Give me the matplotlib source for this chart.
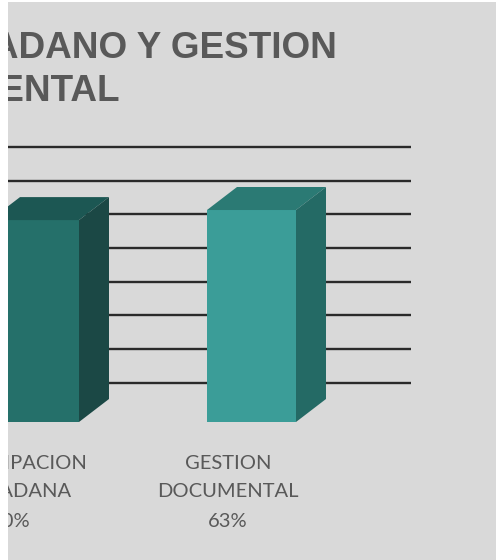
import matplotlib
matplotlib.use("Agg")
import matplotlib.pyplot as plt
from matplotlib.patches import Polygon, Rectangle

# ---- data ----
categories = ["PARTICIPACION\nCIUDADANA", "GESTION\nDOCUMENTAL"]
values = [60, 63]
grid_values = [10, 20, 30, 40, 50, 60, 70, 80]
title_lines = ["PARTICIPACION CIUDADANO Y GESTION", "DOCUMENTAL"]

# ---- style ----
W, H = 496, 560
BG = "#d9d9d9"
front_cols = ["#25706a", "#3b9d98"]
top_cols = ["#1c5753", "#2b7a74"]
side_cols = ["#1b4845", "#246a65"]
txt_col = "#595959"

fig = plt.figure(figsize=(W / 100, H / 100), dpi=100)
fig.patch.set_facecolor("white")
fig.patches.append(Rectangle((8 / W, 0), 1, (H - 2) / H, transform=fig.transFigure,
                             facecolor=BG, edgecolor="none", zorder=-5))

px_per_cat = 217.0
px_per_pct = 3.365
x0_px = 34.5          # pixel x of category 0 center
base_px = 422.0       # pixel y (from top) of value 0
ax = fig.add_axes([0, (H - base_px) / H, 1, 100 * px_per_pct / H])
ax.set_xlim(-x0_px / px_per_cat, (W - x0_px) / px_per_cat)
ax.set_ylim(0, 100)
ax.axis("off")

bar_w = 89 / px_per_cat
dx = 30 / px_per_cat
dy = 23 / px_per_pct
grid_shift = 1.7

ax.hlines([g + grid_shift for g in grid_values], -1, (411 - x0_px) / px_per_cat,
          colors="#2a2a2a", linewidth=1.7, zorder=1)

xs = list(range(len(categories)))
ax.bar(xs, values, width=bar_w, color=front_cols, zorder=3)
for x, v, tc, sc in zip(xs, values, top_cols, side_cols):
    xl, xr = x - bar_w / 2, x + bar_w / 2
    ax.add_patch(Polygon([(xl, v), (xr, v), (xr + dx, v + dy), (xl + dx, v + dy)],
                         closed=True, facecolor=tc, edgecolor="none", zorder=3))
    ax.add_patch(Polygon([(xr, 0), (xr, v), (xr + dx, v + dy), (xr + dx, dy)],
                         closed=True, facecolor=sc, edgecolor="none", zorder=3))

lab_off = -23.5 / px_per_cat
for x, c, v in zip(xs, categories, values):
    lines = c.split("\n") + [f"{v}%"]
    for ln, yb in zip(lines, [-14.0, -22.3, -31.2]):
        ax.text(x + lab_off, yb, ln, ha="center", va="baseline", fontsize=14.5,
                family="Lato", color=txt_col, clip_on=False)

for ln, xr_px, yb_px in zip(title_lines, [337, 120], [58, 101]):
    fig.text(xr_px / W, 1 - yb_px / H, ln, ha="right", va="baseline",
             fontsize=26.6, fontweight="bold", family="Liberation Sans", color=txt_col)

# white crop strips
fig.patches.append(Rectangle((0, 0), 8 / W, 1, transform=fig.transFigure,
                             facecolor="white", edgecolor="none", zorder=20))
fig.patches.append(Rectangle((0, 1 - 2 / H), 1, 2 / H, transform=fig.transFigure,
                             facecolor="white", edgecolor="none", zorder=20))

fig.savefig("out.png", dpi=100, facecolor="white")
